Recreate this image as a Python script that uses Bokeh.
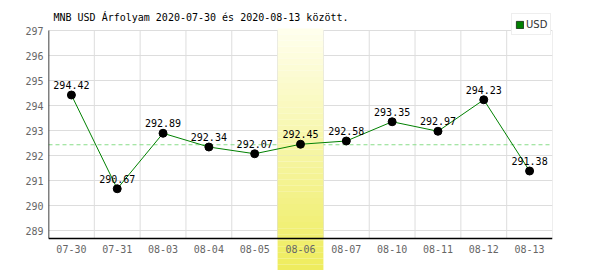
from bokeh.plotting import figure
from bokeh.models import (Range1d, FixedTicker, LinearAxis, ColumnDataSource, Label,
                          Legend, LegendItem)
from bokeh.core.properties import value
from bokeh.embed import file_html
from bokeh.resources import INLINE

# ---- data ----
dates = ["07-30", "07-31", "08-03", "08-04", "08-05", "08-06",
         "08-07", "08-10", "08-11", "08-12", "08-13"]
rates = [294.42, 290.67, 292.89, 292.34, 292.07, 292.45,
         292.58, 293.35, 292.97, 294.23, 291.38]
avg_line = 292.43
highlight = "08-06"
y_ticks = [289, 290, 291, 292, 293, 294, 295, 296, 297]
title_text = "MNB USD Árfolyam 2020-07-30 és 2020-08-13 között."
series_name = "USD"

# ---- layout constants ----
Y_MIN, Y_MAX = 287.4, 298.2       # full canvas height
AXIS_Y = 288.68                   # where the x axis line sits
TOP_Y = 297.0
MONO = value("DejaVu Sans Mono")

n = len(dates)
xs = [i + 0.5 for i in range(n)]
labels = ["%.2f" % v for v in rates]

p = figure(width=600, height=270, output_backend="svg", toolbar_location=None,
           x_range=Range1d(0, n), y_range=Range1d(Y_MIN, Y_MAX),
           x_axis_location=None, y_axis_location=None,
           min_border_left=48, min_border_right=48, min_border_top=0,
           min_border_bottom=0)
p.outline_line_color = None
p.background_fill_color = "white"
p.border_fill_color = "white"

yaxis = LinearAxis(ticker=FixedTicker(ticks=y_ticks))
yaxis.axis_line_color = None
yaxis.major_tick_line_color = None
yaxis.minor_tick_line_color = None
yaxis.major_tick_out = 0
yaxis.major_tick_in = 0
yaxis.major_label_standoff = 5
yaxis.major_label_text_font = "DejaVu Sans Mono"
yaxis.major_label_text_font_size = "10px"
yaxis.major_label_text_color = "#666666"
p.add_layout(yaxis, "left")
p.xgrid.visible = False
p.ygrid.ticker = FixedTicker(ticks=y_ticks)
p.ygrid.grid_line_color = "#dddddd"

# vertical grid at category boundaries
bounds = list(range(1, n + 1))
p.segment(x0=bounds, x1=bounds, y0=[AXIS_Y] * n, y1=[TOP_Y] * n,
          line_color="#dddddd", line_width=1)

# average dashed line
p.line(x=[0, n], y=[avg_line, avg_line], line_color="#88dd88", line_width=1,
       line_dash="4 3")

# highlighted column with vertical gradient
hi = dates.index(highlight)
steps = 40
band_top = Y_MAX - 28 / 25.0
top_c = (255, 255, 238)
bot_c = (238, 236, 92)
bt, bb, cl = [], [], []
for k in range(steps):
    t0 = band_top - (band_top - Y_MIN) * k / steps
    t1 = band_top - (band_top - Y_MIN) * (k + 1) / steps
    f = (k + 0.5) / steps
    c = tuple(int(round(top_c[j] + (bot_c[j] - top_c[j]) * f)) for j in range(3))
    bt.append(t0)
    bb.append(t1)
    cl.append("#%02x%02x%02x" % c)
p.quad(left=[hi] * steps, right=[hi + 1] * steps, top=bt, bottom=bb,
       fill_color=cl, line_color=None)

# axis lines
p.line(x=[0, 0], y=[AXIS_Y, TOP_Y], line_color="black", line_width=1.5)
p.line(x=[0, n], y=[AXIS_Y, AXIS_Y], line_color="black", line_width=1.5)

# x labels
p.text(x=xs, y=[AXIS_Y] * n, text=dates, y_offset=10, text_align="center",
       text_baseline="middle", text_font=MONO, text_font_size="10px",
       text_color="#666666")

# series
src = ColumnDataSource(dict(x=xs, y=rates, lab=labels))
p.line("x", "y", source=src, line_color="#008000", line_width=1)
# zero-size swatch renderer (hidden under the first marker) used for the legend key
leg_r = p.rect(x=xs[:1], y=rates[:1], width=0, height=0, fill_color="#008000",
               line_color="#224422", line_width=1)
p.scatter("x", "y", source=src, size=8, fill_color="black", line_color="black")
p.text("x", "y", text="lab", source=src, y_offset=-10, text_align="center",
       text_baseline="middle", text_font=MONO, text_font_size="10px",
       text_color="black")

# title
p.add_layout(Label(x=0, y=Y_MAX, x_offset=5, y_offset=-17, text=title_text,
                   text_font="DejaVu Sans Mono", text_font_size="10px",
                   text_baseline="middle", text_color="black"))

# legend
legend = Legend(items=[LegendItem(label=series_name, renderers=[leg_r])],
                location=(463, 235), orientation="vertical")
legend.padding = 3
legend.margin = 0
legend.spacing = 0
legend.glyph_width = 9
legend.glyph_height = 9
legend.label_height = 14
legend.label_width = 10
legend.label_standoff = 2
legend.label_text_font = "DejaVu Sans"
legend.label_text_font_size = "10px"
legend.label_text_color = "#333333"
legend.border_line_color = "#dddddd"
legend.background_fill_color = "white"
legend.background_fill_alpha = 1
p.add_layout(legend)

open("out.html", "w").write(file_html(p, INLINE))
